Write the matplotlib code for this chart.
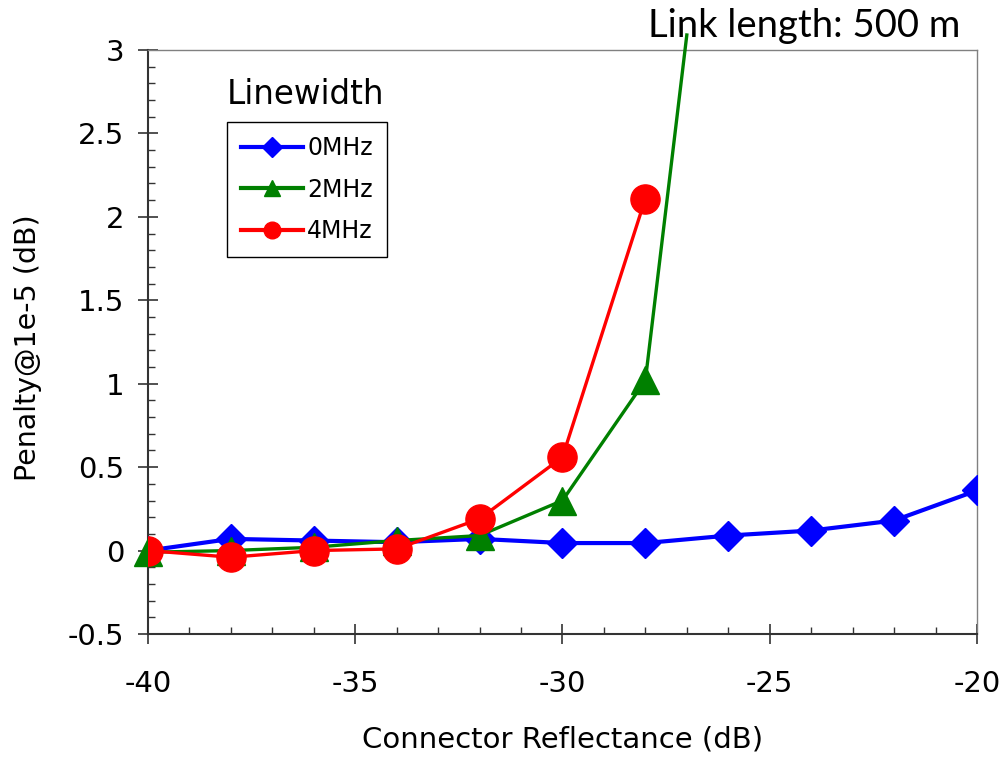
import matplotlib
matplotlib.use("Agg")
import matplotlib.pyplot as plt
from matplotlib.lines import Line2D
from matplotlib.ticker import MultipleLocator, FormatStrFormatter

## Data
refl = [-40, -38, -36, -34, -32, -30, -28, -26, -24, -22, -20]
pen_0mhz = [0.0, 0.07, 0.06, 0.05, 0.07, 0.045, 0.045, 0.09, 0.12, 0.18, 0.36]

refl_2mhz = [-40, -38, -36, -34, -32, -30, -28, -27]
pen_2mhz = [-0.01, 0.0, 0.02, 0.06, 0.09, 0.30, 1.02, 3.09]   # last one is where the line leaves the frame

refl_4mhz = [-40, -38, -36, -34, -32, -30, -28]
pen_4mhz = [0.0, -0.04, 0.0, 0.01, 0.19, 0.56, 2.11]

labels = ["0MHz", "2MHz", "4MHz"]

plt.rcParams['font.family'] = ['DejaVu Sans']
plt.rcParams['axes.unicode_minus'] = False

fig = plt.figure(figsize=(10.02, 7.6), dpi=100)
ax = fig.add_axes([0.1477, 0.1658, 0.8273, 0.7684])

ax.plot(refl, pen_0mhz, color='#0000ff', lw=3, marker='D', ms=15, zorder=3)
ax.plot(refl_2mhz, pen_2mhz, color='#008000', lw=2.4, marker='^', ms=20,
        markevery=list(range(7)), clip_on=False, zorder=4)
ax.plot(refl_4mhz, pen_4mhz, color='#ff0000', lw=2.4, marker='o', ms=21, zorder=5)

ax.set_xlim(-40, -20)
ax.set_ylim(-0.5, 3)

ax.xaxis.set_major_locator(MultipleLocator(5))
ax.xaxis.set_minor_locator(MultipleLocator(1))
ax.yaxis.set_major_locator(MultipleLocator(0.5))
ax.yaxis.set_minor_locator(MultipleLocator(0.1))
ax.yaxis.set_major_formatter(FormatStrFormatter('%g'))

ax.tick_params(which='major', direction='inout', length=14, width=1.2, labelsize=21, color='#333333')
ax.tick_params(which='minor', direction='in', length=5, width=1.0, color='#333333')
ax.tick_params(axis='x', which='major', pad=19)
ax.tick_params(axis='y', which='major', pad=10)

for s in ['left', 'bottom']:
    ax.spines[s].set_color('#333333')
    ax.spines[s].set_linewidth(1.5)
for s in ['top', 'right']:
    ax.spines[s].set_color('#808080')
    ax.spines[s].set_linewidth(1.0)

ax.set_xlabel("Connector Reflectance (dB)", fontsize=21, va='center')
ax.xaxis.set_label_coords(0.5, -0.1815)
ax.set_ylabel("Penalty@1e-5 (dB)", fontsize=20.5, va='center')
ax.yaxis.set_label_coords(-0.145, 0.49)

# legend with smaller markers, title as separate text
handles = [Line2D([], [], color='#0000ff', lw=3, marker='D', ms=10),
           Line2D([], [], color='#008000', lw=3, marker='^', ms=12),
           Line2D([], [], color='#ff0000', lw=3, marker='o', ms=12)]
leg = ax.legend(handles, labels, loc='upper left', bbox_to_anchor=(0.0953, 0.8767),
                borderaxespad=0, fancybox=False, framealpha=1, edgecolor='black',
                fontsize=17, handlelength=2.6, handletextpad=0.2, labelspacing=0.74,
                borderpad=0.6)
leg.get_frame().set_linewidth(1.0)

ax.text(0.0953, 0.9075, "Linewidth", transform=ax.transAxes, fontsize=23.5,
        ha='left', va='baseline')

fig.text(0.958, 0.951, "Link length: 500 m", fontsize=27.5, family='Lato',
         ha='right', va='baseline')

fig.savefig("out.png", dpi=100)
